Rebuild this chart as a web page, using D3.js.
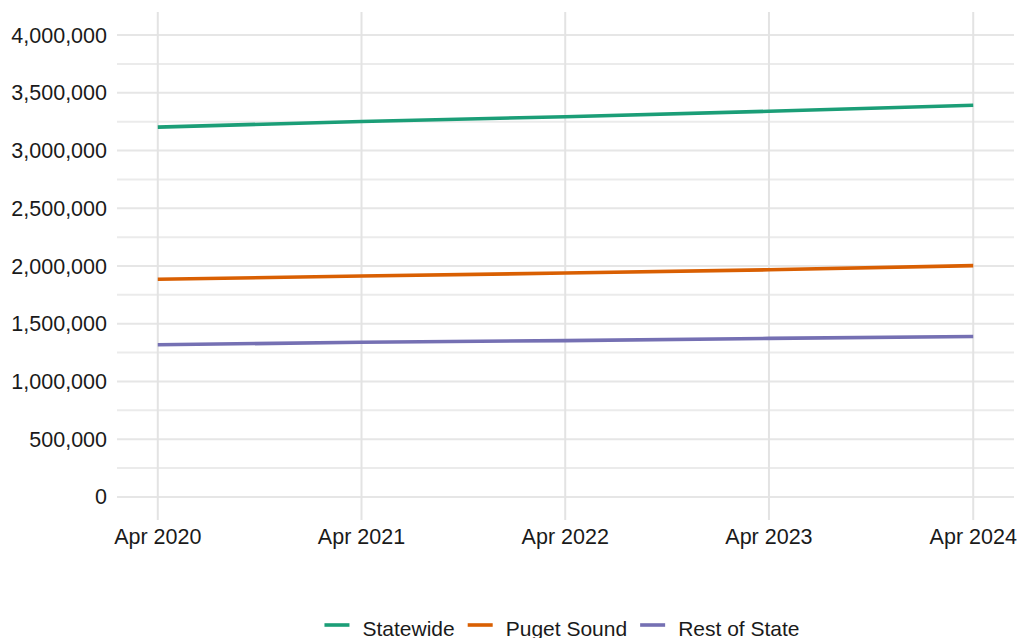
<!DOCTYPE html>
<meta charset="utf-8">
<style>
    body { margin: 0; background: white; }
    svg { display: block; font-family: "Liberation Sans", Arial, sans-serif; }
</style>
<svg width="1020" height="638"></svg>
<script src="https://cdn.jsdelivr.net/npm/d3@7"></script>
<script>
    // housing units, April estimates
    var dates = ["2020-04-01", "2021-04-01", "2022-04-01", "2023-04-01", "2024-04-01"];
    var statewide = [3203000, 3252000, 3293000, 3340000, 3392000];
    var pugetSound = [1885000, 1913000, 1939000, 1967000, 2003000];
    var restOfState = [1318000, 1339000, 1354000, 1373000, 1389000];
    var seriesNames = ["Statewide", "Puget Sound", "Rest of State"];
    var seriesColors = ["#1B9E77", "#D95F02", "#7570B3"];
    var yTicks = [0, 500000, 1000000, 1500000, 2000000, 2500000, 3000000, 3500000, 4000000];

    var svg = d3.select("svg"),
        panelLeft = 117, panelRight = 1014, panelTop = 12, panelBottom = 520;

    var parse = d3.timeParse("%Y-%m-%d");
    var xDates = dates.map(parse);

    var x0 = xDates[0], x1 = xDates[xDates.length - 1];
    var span = x1 - x0;
    var x = d3.scaleTime()
        .domain([new Date(+x0 - span * 0.05), new Date(+x1 + span * 0.05)])
        .range([panelLeft, panelRight]);

    var y = d3.scaleLinear()
        .domain([-200000, 4200000])
        .range([panelBottom, panelTop]);

    var series = [statewide, pugetSound, restOfState].map(function(vals, i) {
        return {
            name: seriesNames[i],
            color: seriesColors[i],
            values: vals.map(function(v, j) { return { date: xDates[j], value: v }; })
        };
    });

    // minor horizontal grid
    var minor = d3.range(250000, 4000000, 500000);
    svg.append("g").selectAll("line")
        .data(minor)
        .enter().append("line")
        .attr("x1", panelLeft).attr("x2", panelRight)
        .attr("y1", function(d) { return y(d); })
        .attr("y2", function(d) { return y(d); })
        .style("stroke", "#ebebeb")
        .style("stroke-width", 2);

    // major horizontal grid
    svg.append("g").selectAll("line")
        .data(yTicks)
        .enter().append("line")
        .attr("x1", panelLeft).attr("x2", panelRight)
        .attr("y1", function(d) { return y(d); })
        .attr("y2", function(d) { return y(d); })
        .style("stroke", "#e6e6e6")
        .style("stroke-width", 2);

    // vertical grid
    svg.append("g").selectAll("line")
        .data(xDates)
        .enter().append("line")
        .attr("x1", function(d) { return x(d); })
        .attr("x2", function(d) { return x(d); })
        .attr("y1", panelTop).attr("y2", panelBottom)
        .style("stroke", "#e3e3e3")
        .style("stroke-width", 2);

    // y labels
    var fmt = d3.format(",");
    svg.append("g").selectAll("text")
        .data(yTicks)
        .enter().append("text")
        .attr("x", 107)
        .attr("y", function(d) { return y(d); })
        .attr("dy", "0.35em")
        .attr("text-anchor", "end")
        .style("font-size", "21.5px")
        .style("fill", "#1a1a1a")
        .text(function(d) { return fmt(d); });

    // x labels
    var xfmt = d3.timeFormat("%b %Y");
    svg.append("g").selectAll("text")
        .data(xDates)
        .enter().append("text")
        .attr("x", function(d) { return x(d); })
        .attr("y", 544)
        .attr("text-anchor", "middle")
        .style("font-size", "21.5px")
        .style("fill", "#1a1a1a")
        .text(function(d) { return xfmt(d); });

    var line = d3.line()
        .x(function(d) { return x(d.date); })
        .y(function(d) { return y(d.value); });

    svg.append("g").selectAll("path")
        .data(series)
        .enter().append("path")
        .attr("d", function(d) { return line(d.values); })
        .style("fill", "none")
        .style("stroke", function(d) { return d.color; })
        .style("stroke-width", 3.6);

    // legend
    var legend = svg.append("g");
    var items = legend.selectAll("g")
        .data(series)
        .enter().append("g");

    items.append("line")
        .attr("x1", 0).attr("x2", 25)
        .attr("y1", 625).attr("y2", 625)
        .style("stroke", function(d) { return d.color; })
        .style("stroke-width", 3.6);

    items.append("text")
        .attr("x", 38)
        .attr("y", 636)
        .style("font-size", "21px")
        .style("fill", "#1a1a1a")
        .text(function(d) { return d.name; });

    var pos = 0;
    items.each(function() {
        var w = d3.select(this).select("text").node().getComputedTextLength();
        d3.select(this).attr("transform", "translate(" + pos + ",0)");
        pos += 38 + w + 13;
    });
    var total = pos - 13;
    legend.attr("transform", "translate(" + (562 - total / 2) + ",0)");
</script>
